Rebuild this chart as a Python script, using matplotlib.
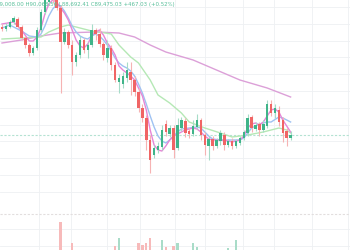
import numpy as np
import matplotlib
matplotlib.use("Agg")
import matplotlib.pyplot as plt

# ---- candles (price, USD) ----
opens = [105675, 105375, 105675, 106425, 106875, 105675, 104025, 102975, 101775, 102525,
         105225, 107925, 109425, 110625, 109725, 108525, 103425, 104925, 102975, 100425,
         101475, 103725, 102225, 102975, 105225, 104625, 103125, 101025, 102525, 99975,
         97425, 97125, 98025, 98925, 97725, 95925, 93525, 92025, 88725, 86475,
         87225, 87675, 91125, 89625, 90525, 87525, 90525, 91575, 90075, 89625,
         90675, 91725, 89475, 87825, 88875, 87825, 88575, 89475, 87975, 88575,
         87825, 88275, 89025, 89775, 92175, 90375, 91125, 90225, 90825, 94125,
         92775, 93225, 91725, 90075, 89008]
highs = [106125, 106275, 106725, 107325, 107175, 105975, 104325, 103275, 102825, 105675,
         108375, 110325, 111225, 111225, 110475, 108975, 105525, 105225, 103725, 101925,
         104325, 104025, 103425, 106125, 105525, 105525, 103425, 103725, 102975, 100425,
         98625, 98925, 100425, 100425, 98325, 96525, 94125, 92475, 89475, 87975,
         88425, 90975, 91725, 90975, 90975, 92025, 92175, 92025, 90525, 91725,
         92625, 92025, 89925, 89325, 89325, 89025, 90225, 89925, 88875, 89025,
         88875, 89325, 90225, 92625, 92475, 91425, 91425, 91725, 94725, 94725,
         94125, 93825, 92175, 90525, 90068]
lows = [105075, 105075, 105525, 106125, 105525, 103725, 102525, 101325, 101475, 102225,
        104925, 107625, 108975, 109275, 108225, 95775, 103125, 102525, 98475, 99825,
        101025, 101775, 101025, 102675, 103725, 102675, 100725, 100425, 99225, 97425,
        95775, 96525, 97425, 95475, 95325, 92925, 91425, 87225, 83775, 86025,
        86775, 87225, 89325, 89175, 86025, 87225, 90075, 89175, 89025, 89325,
        90375, 88725, 86475, 85725, 87225, 87525, 87975, 87225, 87675, 87375,
        87525, 87975, 88725, 89325, 89925, 90075, 89325, 89925, 90525, 92325,
        92025, 90825, 88425, 87825, 88692]
closes = [105375, 105825, 106425, 107025, 105675, 104025, 102975, 101775, 102525, 105225,
          107925, 109725, 110625, 110025, 108525, 103425, 104925, 102975, 100425, 101475,
          103725, 102225, 102975, 105225, 104625, 103125, 101475, 102525, 99975, 97725,
          98025, 98325, 99225, 97725, 95925, 93525, 92025, 88725, 85725, 87525,
          87825, 90225, 89925, 90525, 87225, 90975, 91725, 89775, 89625, 90825,
          91725, 89475, 87975, 88875, 87825, 88725, 89775, 87975, 88575, 87825,
          88575, 89025, 89925, 92025, 90525, 90975, 90225, 91125, 94125, 92775,
          93525, 91425, 89775, 89025, 89475]
volumes = [450, 380, 420, 500, 520, 600, 560, 580, 420, 620,
           700, 650, 600, 560, 700, 2430, 640, 620, 1180, 560,
           620, 500, 460, 600, 520, 540, 620, 500, 680, 1000,
           1470, 560, 620, 700, 740, 1180, 1060, 1180, 1470, 700,
           620, 1350, 940, 600, 1000, 1180, 560, 520, 480, 1180,
           940, 700, 740, 620, 560, 500, 520, 480, 880, 600,
           1350, 520, 560, 700, 620, 480, 520, 500, 720, 640,
           560, 620, 700, 680, 520]

# ---- moving averages (index, price) ----
ma_fast_idx = [0, 3, 5, 7, 8, 9, 10, 11, 12, 13, 14, 15, 16, 17, 18, 19, 20, 21, 22, 23,
               24, 25, 26, 27, 28, 29, 30, 31, 32, 33, 34, 35, 36, 37, 38, 39, 40, 41, 42,
               43, 44, 45, 46, 47, 48, 49, 50, 51, 52, 53, 54, 56, 58, 59, 60, 61, 62, 63,
               64, 65, 66, 67, 68, 69, 70, 71, 72, 73, 74]
ma_fast = [106125, 106425, 105225, 103575, 103575, 104175, 105525, 107625, 109125, 109725,
           109425, 108525, 107775, 106725, 105225, 103725, 102825, 102525, 103125, 104325,
           104925, 105225, 104475, 103275, 102525, 101475, 99825, 99225, 98775, 98325,
           97725, 96525, 95325, 93225, 90225, 87975, 87225, 87075, 87825, 88725,
           89325, 89625, 89925, 90225, 90375, 90525, 90375, 89925, 89325, 88875,
           88725, 88725, 88575, 88425, 88575, 88725, 89325, 90525, 91125, 91275,
           90975, 91425, 92325, 93225, 93375, 92925, 91725, 90825, 89925]
ma_blue_idx = [0, 2, 5, 7, 9, 10, 11, 12, 13, 14, 15, 16, 17, 18, 19, 20, 21, 22, 23, 24,
               25, 26, 27, 28, 29, 30, 31, 32, 33, 34, 35, 36, 37, 38, 39, 40, 41, 42, 43,
               44, 45, 46, 48, 50, 51, 52, 53, 54, 56, 61, 62, 63, 64, 66, 68, 69, 71, 72, 74]
ma_blue = [105525, 105975, 105075, 104325, 104175, 104625, 105825, 107325, 108375, 108975,
           108825, 108075, 107025, 105825, 104925, 104325, 104025, 103875, 104325, 104625,
           104325, 103725, 102975, 102075, 101025, 100275, 99825, 99525, 99075, 98325,
           97125, 95775, 94125, 92325, 90675, 89325, 88575, 88275, 88725, 89325,
           89925, 90375, 90525, 90675, 90525, 89925, 89325, 88875, 88725, 88725,
           89025, 89775, 90525, 91125, 91425, 91425, 92175, 92025, 91425]
ma_green_idx = [0, 5, 10, 12, 15, 17, 20, 23, 25, 28, 30, 33, 35, 38, 40, 43, 46, 48, 52,
                56, 59, 63, 67, 71, 73, 74]
ma_green = [103875, 104025, 104175, 104925, 105675, 105975, 105525, 105075, 104925, 104625,
            102975, 101175, 100275, 97725, 95475, 94275, 92775, 91425, 90525,
            89775, 89175, 89475, 89925, 90525, 90225, 89775]
ma_slow_idx = [0, 5, 10, 15, 24, 30, 34, 38, 42, 49, 55, 61, 68, 74]
ma_slow = [103275, 103725, 104325, 104775, 104925, 104775, 104175, 102975, 101925, 100725,
           99225, 97725, 96525, 95175]

header = "O89,008.00 H90,068.56 L88,692.41 C89,475.03 +467.03 (+0.52%)"
last_price = 89475

UP, DOWN = "#3fb489", "#f06565"
UP_W, DOWN_W = "#a6dcc8", "#f6b3b3"

fig = plt.figure(figsize=(3.5, 2.5), dpi=100)
ax = fig.add_axes([0, 0, 1, 1])
ax.set_xlim(-0.513, 89.23)
ax.set_ylim(72225, 109725)   # 150 USD per pixel
ax.axis("off")

n = len(closes)
idx = np.arange(n)
o, h, l, c = map(np.array, (opens, highs, lows, closes))
up = c >= o

# grid
grid_c = "#eef0f3"
for gx in [9.5, 17.7, 26.9, 35.4, 44.4, 52.1, 61.8, 69.7, 79.5, 88.7]:
    ax.axvline(gx, color=grid_c, lw=0.6, zorder=0)
for gy in 108675 - 2520 * np.arange(12):
    ax.axhline(gy, color=grid_c, lw=0.6, zorder=0)

# volume pane on twin axis
vx = ax.twinx()
vx.set_ylim(765, 15470)
vx.axis("off")
for gy in (1000, 2000):
    vx.axhline(gy, color=grid_c, lw=0.6, zorder=0)
vx.axhline(2880, color="#e2dede", lw=0.8, ls=(0, (2, 1.5)), zorder=1)
vx.bar(idx, volumes, width=0.6, color=np.where(up, "#a9dcc8", "#f7baba"), zorder=2)

# price line
ax.axhline(last_price, color="#b4e2d2", lw=0.8, ls=(0, (2, 1.5)), zorder=1)

# moving averages
ax.plot(ma_slow_idx, ma_slow, color="#dca0d8", lw=1.0, zorder=2)
ax.plot(ma_green_idx, ma_green, color="#b5e8b5", lw=1.0, zorder=2)
ax.plot(ma_blue_idx, ma_blue, color="#9fc2f2", lw=1.0, zorder=2)
ax.plot(ma_fast_idx, ma_fast, color="#e686d6", lw=1.0, zorder=2)

# candles
ax.vlines(idx, l, h, colors=np.where(up, UP_W, DOWN_W), lw=0.8, zorder=3)
body = np.maximum(np.abs(c - o), 150)
ax.bar(idx, body, bottom=np.minimum(o, c), width=0.65,
       color=np.where(up, UP, DOWN), zorder=4)

# legend line, clipped at the left edge like the reference crop
fig.text(-0.022, 0.993, header, ha="left", va="top", fontsize=3.9,
         color="#58bf9a", family="DejaVu Sans")

fig.savefig("out.png", dpi=100)
